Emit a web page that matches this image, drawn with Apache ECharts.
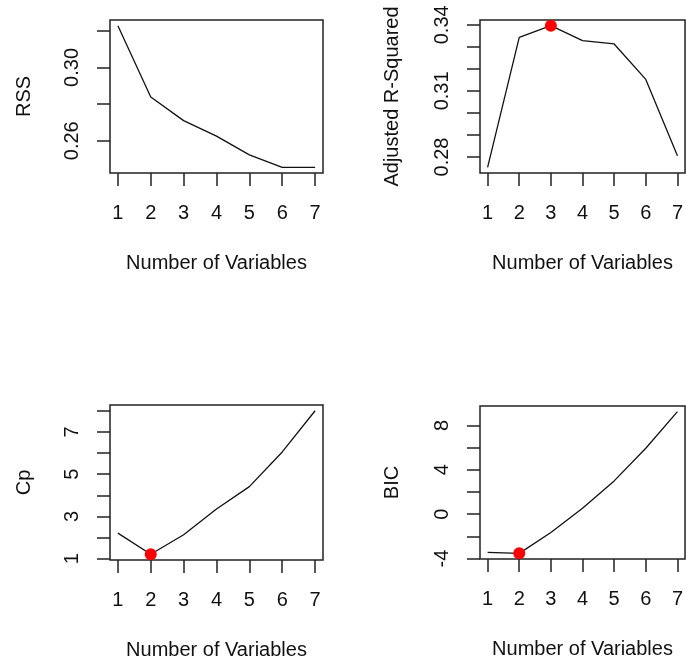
<!DOCTYPE html>
<html><head><meta charset="utf-8">
<script src="https://cdn.jsdelivr.net/npm/echarts@6/dist/echarts.min.js"></script>
<style>html,body{margin:0;padding:0;background:#fff}#c{width:686px;height:663px}</style>
</head><body><div id="c"></div>
<script>
// ---- data ----
const numVars = [1, 2, 3, 4, 5, 6, 7];
const rss   = [0.3228, 0.2839, 0.2710, 0.2625, 0.2523, 0.2455, 0.2455];
const adjr2 = [0.2753, 0.3343, 0.3396, 0.3328, 0.3313, 0.3152, 0.2806];
const cp    = [2.21, 1.21, 2.13, 3.35, 4.41, 6.05, 8.00];
const bic   = [-3.44, -3.53, -1.65, 0.53, 3.00, 5.94, 9.24];
// ---- ticks / labels ----
const xTickVals = [1, 2, 3, 4, 5, 6, 7];
const rssTicks = [0.26, 0.28, 0.30, 0.32];
const rssLabels = [0.26, 0.30];
const adjTicks = [0.28, 0.29, 0.30, 0.31, 0.32, 0.33, 0.34];
const adjLabels = [0.28, 0.31, 0.34];
const cpTicks = [1, 2, 3, 4, 5, 6, 7, 8];
const cpLabels = [1, 3, 5, 7];
const bicTicks = [-4, -2, 0, 2, 4, 6, 8];
const bicLabels = [-4, 0, 4, 8];

const FONT = '"Liberation Sans", Arial, sans-serif';
const FS = 20;
const INK = '#111';
const BOX = '#222';

function pad(arr) {
  const mn = Math.min(...arr), mx = Math.max(...arr), d = (mx - mn) * 0.04;
  return [mn - d, mx + d];
}
function argIdx(arr, useMax) {
  let b = 0;
  arr.forEach((v, i) => { if (useMax ? v > arr[b] : v < arr[b]) b = i; });
  return b;
}

const panels = [
  { vals: rss, name: 'RSS', ticks: rssTicks, labels: rssLabels, dec: 2, grid: { left: 110, top: 20, width: 213, height: 153 }, nameGap: 76, best: null },
  { vals: adjr2, name: 'Adjusted R-Squared', ticks: adjTicks, labels: adjLabels, dec: 2, grid: { left: 480, top: 20, width: 213, height: 153 }, nameGap: 78, best: 'max' },
  { vals: cp, name: 'Cp', ticks: cpTicks, labels: cpLabels, dec: 0, grid: { left: 110, top: 405, width: 213, height: 155 }, nameGap: 76, best: 'min' },
  { vals: bic, name: 'BIC', ticks: bicTicks, labels: bicLabels, dec: 0, grid: { left: 480, top: 406, width: 213, height: 153 }, nameGap: 78, best: 'min' }
];

const xr = pad(numVars);
const option = { animation: false, backgroundColor: '#fff', grid: [], xAxis: [], yAxis: [], series: [] };

panels.forEach((p, i) => {
  const yr = pad(p.vals);
  option.grid.push(Object.assign({ show: true, borderColor: BOX, borderWidth: 1.5, backgroundColor: 'transparent', containLabel: false }, p.grid));
  option.xAxis.push({
    type: 'value', gridIndex: i, min: xr[0], max: xr[1], position: 'bottom',
    name: 'Number of Variables', nameLocation: 'middle', nameGap: 80,
    nameTextStyle: { fontFamily: FONT, fontSize: FS, color: INK },
    axisLine: { show: false, onZero: false },
    axisTick: { show: true, inside: false, length: 13, customValues: xTickVals, lineStyle: { color: BOX, width: 1.5 } },
    axisLabel: { show: true, margin: 30, customValues: xTickVals, fontFamily: FONT, fontSize: FS, color: INK, formatter: v => String(v) },
    splitLine: { show: false }
  });
  option.yAxis.push({
    type: 'value', gridIndex: i, min: yr[0], max: yr[1], position: 'left',
    name: p.name, nameLocation: 'middle', nameGap: p.nameGap, nameRotate: 90,
    nameTextStyle: { fontFamily: FONT, fontSize: FS, color: INK },
    axisLine: { show: false, onZero: false },
    axisTick: { show: true, inside: false, length: 13, customValues: p.ticks, lineStyle: { color: BOX, width: 1.5 } },
    axisLabel: { show: true, rotate: 90, margin: 28, customValues: p.labels, fontFamily: FONT, fontSize: FS, color: INK, formatter: v => Number(v).toFixed(p.dec) },
    splitLine: { show: false }
  });
  option.series.push({
    type: 'line', xAxisIndex: i, yAxisIndex: i,
    data: numVars.map((x, k) => [x, p.vals[k]]),
    showSymbol: false, symbol: 'none',
    lineStyle: { color: '#111', width: 1.3 },
    silent: true
  });
  if (p.best) {
    const b = argIdx(p.vals, p.best === 'max');
    option.series.push({
      type: 'scatter', xAxisIndex: i, yAxisIndex: i,
      data: [[numVars[b], p.vals[b]]],
      symbol: 'circle', symbolSize: 12,
      itemStyle: { color: '#ff0000', opacity: 1 },
      silent: true, z: 5
    });
  }
});

const chart = echarts.init(document.getElementById('c'), null, { renderer: 'canvas' });
chart.setOption(option);
</script>
</body></html>
